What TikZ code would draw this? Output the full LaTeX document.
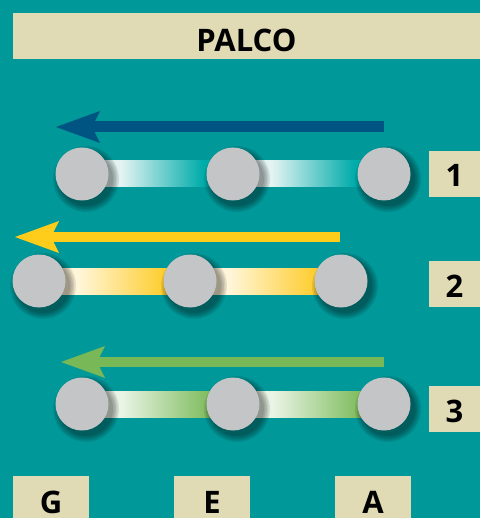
\documentclass[tikz,border=0pt]{standalone}
\usepackage{fontspec}
\setmainfont{Open Sans}
\usetikzlibrary{arrows.meta,calc}
\definecolor{bg}{RGB}{0,152,153}
\definecolor{beige}{RGB}{224,219,181}
\definecolor{dot}{RGB}{196,197,199}
\definecolor{blueA}{RGB}{0,84,130}
\definecolor{yellowA}{RGB}{254,204,26}
\definecolor{greenA}{RGB}{120,184,86}
\definecolor{tealL}{RGB}{226,243,242}
\definecolor{tealD}{RGB}{0,172,170}
\definecolor{yelL}{RGB}{255,246,218}
\definecolor{yelD}{RGB}{254,206,48}
\definecolor{grnL}{RGB}{234,244,230}
\definecolor{grnD}{RGB}{130,190,98}
\pgfdeclarehorizontalshading{tealbar}{100bp}{color(0bp)=(tealL); color(25bp)=(tealL); color(38bp)=(tealL); color(65bp)=(tealD); color(75bp)=(tealD); color(100bp)=(tealD)}
\pgfdeclarehorizontalshading{yelbar}{100bp}{color(0bp)=(yelL); color(25bp)=(yelL); color(38bp)=(yelL); color(66bp)=(yelD); color(75bp)=(yelD); color(100bp)=(yelD)}
\pgfdeclarehorizontalshading{grnbar}{100bp}{color(0bp)=(grnL); color(25bp)=(grnL); color(38bp)=(grnL); color(66bp)=(grnD); color(75bp)=(grnD); color(100bp)=(grnD)}
\newcommand\dotshadow[1]{\foreach \r in {33,31.5,30,28.5,27}{\fill[black,fill opacity=0.09] ($(#1)+(4,5)$) circle[radius=\r pt];}}
\tikzset{
  dotc/.style={circle, fill=dot, minimum size=53pt, inner sep=0pt},
  tag/.style={fill=beige, inner sep=0pt, font=\fontsize{31}{31}\selectfont\bfseries, text=black},
  flow/.style={line width=#1, -{Stealth[length=44pt,width=32pt,inset=8pt,line width=0pt]}},
}
\begin{document}
\begin{tikzpicture}[x=1pt,y=-1pt]
\useasboundingbox (0,0) rectangle (480,518);
\clip (0,0) rectangle (480,518);
\fill[bg] (0,0) rectangle (480,518);
% title
\node[tag, minimum width=467pt, minimum height=46pt, text height=32pt, text depth=0pt] (palco) at (246.5,36) {PALCO};
% positions
\coordinate (g1) at (82,174);  \coordinate (e1) at (233,174); \coordinate (a1) at (384,174);
\coordinate (g2) at (39,281);  \coordinate (e2) at (190,281); \coordinate (a2) at (341,281);
\coordinate (g3) at (82,404);  \coordinate (e3) at (233,404); \coordinate (a3) at (384,404);
% bars
\shade[shading=tealbar] ($(g1)+(0,-13)$) rectangle ($(e1)+(0,13)$);
\shade[shading=tealbar] ($(e1)+(0,-13)$) rectangle ($(a1)+(0,13)$);
\shade[shading=yelbar] ($(g2)+(0,-13)$) rectangle ($(e2)+(0,13)$);
\shade[shading=yelbar] ($(e2)+(0,-13)$) rectangle ($(a2)+(0,13)$);
\shade[shading=grnbar] ($(g3)+(0,-13)$) rectangle ($(e3)+(0,13)$);
\shade[shading=grnbar] ($(e3)+(0,-13)$) rectangle ($(a3)+(0,13)$);
% shadows
\foreach \p in {g1,e1,a1,g2,e2,a2,g3,e3,a3}{\dotshadow{\p}}
% dots
\foreach \p in {g1,e1,a1,g2,e2,a2,g3,e3,a3}{\node[dotc] (D\p) at (\p) {};}
% arrows
\coordinate (s1) at (384,127); \coordinate (t1) at (56,127);
\coordinate (s2) at (340,237); \coordinate (t2) at (15,237);
\coordinate (s3) at (384,362); \coordinate (t3) at (61,362);
\draw[blueA, flow=11pt] (s1) -- (t1);
\draw[yellowA, flow=10pt] (s2) -- (t2);
\draw[greenA, flow=10pt] (s3) -- (t3);
% row numbers
\node[tag, minimum width=51pt, minimum height=46pt, text height=26pt, text depth=0pt] (n1) at (454.5,174) {1};
\node[tag, minimum width=51pt, minimum height=46pt, text height=26pt, text depth=0pt] (n2) at (454.5,284) {2};
\node[tag, minimum width=51pt, minimum height=46pt, text height=26pt, text depth=0pt] (n3) at (454.5,409) {3};
% string letters
\node[tag, minimum width=76pt, minimum height=42pt, text height=32pt, text depth=0pt] (G) at (51,497) {G};
\node[tag, minimum width=76pt, minimum height=42pt, text height=32pt, text depth=0pt] (E) at (212,497) {E};
\node[tag, minimum width=76pt, minimum height=42pt, text height=32pt, text depth=0pt] (A) at (373,497) {A};
\end{tikzpicture}
\end{document}
